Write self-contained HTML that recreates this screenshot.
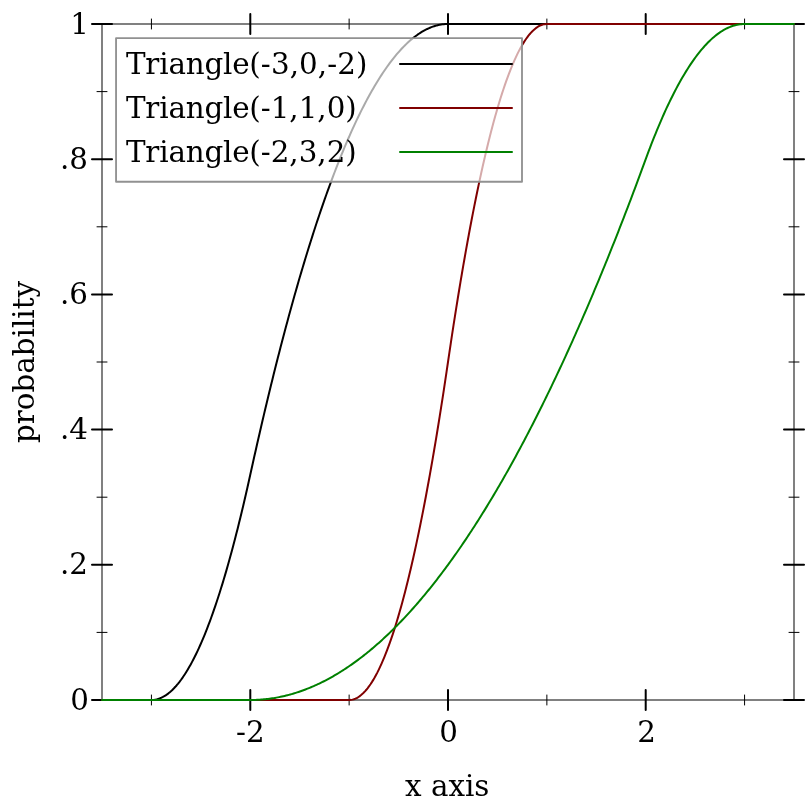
<!DOCTYPE html>
<html><head><meta charset="utf-8"><title>Triangle CDF</title>
<style>
html,body{margin:0;padding:0;background:#fff;}
svg{display:block;will-change:transform;}
text{font-family:"DejaVu Serif","Liberation Serif",serif;font-size:29.33px;fill:#000;}
</style></head><body>
<svg width="812" height="812" viewBox="0 0 812 812">
<rect width="812" height="812" fill="#fff"/>
<rect x="102.0" y="24.0" width="692.0" height="676.0" fill="none" stroke="#808080" stroke-width="2"/>
<g stroke="#000" stroke-linecap="round"><line x1="151.43" y1="695.0" x2="151.43" y2="705.0" stroke-width="1"/><line x1="151.43" y1="19.0" x2="151.43" y2="29.0" stroke-width="1"/><line x1="250.29" y1="690.0" x2="250.29" y2="710.0" stroke-width="2"/><line x1="250.29" y1="14.0" x2="250.29" y2="34.0" stroke-width="2"/><line x1="349.14" y1="695.0" x2="349.14" y2="705.0" stroke-width="1"/><line x1="349.14" y1="19.0" x2="349.14" y2="29.0" stroke-width="1"/><line x1="448.00" y1="690.0" x2="448.00" y2="710.0" stroke-width="2"/><line x1="448.00" y1="14.0" x2="448.00" y2="34.0" stroke-width="2"/><line x1="546.86" y1="695.0" x2="546.86" y2="705.0" stroke-width="1"/><line x1="546.86" y1="19.0" x2="546.86" y2="29.0" stroke-width="1"/><line x1="645.71" y1="690.0" x2="645.71" y2="710.0" stroke-width="2"/><line x1="645.71" y1="14.0" x2="645.71" y2="34.0" stroke-width="2"/><line x1="744.57" y1="695.0" x2="744.57" y2="705.0" stroke-width="1"/><line x1="744.57" y1="19.0" x2="744.57" y2="29.0" stroke-width="1"/><line x1="92.0" y1="700.00" x2="112.0" y2="700.00" stroke-width="2"/><line x1="784.0" y1="700.00" x2="804.0" y2="700.00" stroke-width="2"/><line x1="97.0" y1="632.40" x2="107.0" y2="632.40" stroke-width="1"/><line x1="789.0" y1="632.40" x2="799.0" y2="632.40" stroke-width="1"/><line x1="92.0" y1="564.80" x2="112.0" y2="564.80" stroke-width="2"/><line x1="784.0" y1="564.80" x2="804.0" y2="564.80" stroke-width="2"/><line x1="97.0" y1="497.20" x2="107.0" y2="497.20" stroke-width="1"/><line x1="789.0" y1="497.20" x2="799.0" y2="497.20" stroke-width="1"/><line x1="92.0" y1="429.60" x2="112.0" y2="429.60" stroke-width="2"/><line x1="784.0" y1="429.60" x2="804.0" y2="429.60" stroke-width="2"/><line x1="97.0" y1="362.00" x2="107.0" y2="362.00" stroke-width="1"/><line x1="789.0" y1="362.00" x2="799.0" y2="362.00" stroke-width="1"/><line x1="92.0" y1="294.40" x2="112.0" y2="294.40" stroke-width="2"/><line x1="784.0" y1="294.40" x2="804.0" y2="294.40" stroke-width="2"/><line x1="97.0" y1="226.80" x2="107.0" y2="226.80" stroke-width="1"/><line x1="789.0" y1="226.80" x2="799.0" y2="226.80" stroke-width="1"/><line x1="92.0" y1="159.20" x2="112.0" y2="159.20" stroke-width="2"/><line x1="784.0" y1="159.20" x2="804.0" y2="159.20" stroke-width="2"/><line x1="97.0" y1="91.60" x2="107.0" y2="91.60" stroke-width="1"/><line x1="789.0" y1="91.60" x2="799.0" y2="91.60" stroke-width="1"/><line x1="92.0" y1="24.00" x2="112.0" y2="24.00" stroke-width="2"/><line x1="784.0" y1="24.00" x2="804.0" y2="24.00" stroke-width="2"/></g>
<clipPath id="c"><rect x="101" y="23" width="694" height="678"/></clipPath>
<g clip-path="url(#c)" fill="none" stroke-width="2" stroke-linejoin="round" stroke-linecap="round"><path d="M102.00,700.00 L103.38,700.00 L104.77,700.00 L106.15,700.00 L107.54,700.00 L108.92,700.00 L110.30,700.00 L111.69,700.00 L113.07,700.00 L114.46,700.00 L115.84,700.00 L117.22,700.00 L118.61,700.00 L119.99,700.00 L121.38,700.00 L122.76,700.00 L124.14,700.00 L125.53,700.00 L126.91,700.00 L128.30,700.00 L129.68,700.00 L131.06,700.00 L132.45,700.00 L133.83,700.00 L135.22,700.00 L136.60,700.00 L137.98,700.00 L139.37,700.00 L140.75,700.00 L142.14,700.00 L143.52,700.00 L144.90,700.00 L146.29,700.00 L147.67,700.00 L149.06,700.00 L150.44,700.00 L151.82,700.00 L153.21,699.93 L154.59,699.77 L155.98,699.52 L157.36,699.19 L158.74,698.77 L160.13,698.26 L161.51,697.66 L162.90,696.97 L164.28,696.19 L165.66,695.33 L167.05,694.37 L168.43,693.33 L169.82,692.20 L171.20,690.99 L172.58,689.68 L173.97,688.29 L175.35,686.80 L176.74,685.23 L178.12,683.57 L179.50,681.83 L180.89,679.99 L182.27,678.07 L183.66,676.05 L185.04,673.95 L186.42,671.76 L187.81,669.48 L189.19,667.12 L190.58,664.66 L191.96,662.12 L193.34,659.49 L194.73,656.77 L196.11,653.96 L197.50,651.07 L198.88,648.08 L200.26,645.01 L201.65,641.85 L203.03,638.60 L204.42,635.26 L205.80,631.84 L207.18,628.32 L208.57,624.72 L209.95,621.03 L211.34,617.25 L212.72,613.38 L214.10,609.43 L215.49,605.38 L216.87,601.25 L218.26,597.03 L219.64,592.72 L221.02,588.32 L222.41,583.84 L223.79,579.26 L225.18,574.60 L226.56,569.85 L227.94,565.01 L229.33,560.08 L230.71,555.06 L232.10,549.96 L233.48,544.77 L234.86,539.49 L236.25,534.12 L237.63,528.66 L239.02,523.11 L240.40,517.48 L241.78,511.76 L243.17,505.95 L244.55,500.05 L245.94,494.06 L247.32,487.98 L248.70,481.82 L250.09,475.57 L251.47,469.27 L252.86,463.03 L254.24,456.82 L255.62,450.66 L257.01,444.54 L258.39,438.47 L259.78,432.44 L261.16,426.46 L262.54,420.52 L263.93,414.62 L265.31,408.77 L266.70,402.96 L268.08,397.20 L269.46,391.48 L270.85,385.80 L272.23,380.17 L273.62,374.58 L275.00,369.04 L276.38,363.54 L277.77,358.09 L279.15,352.68 L280.54,347.31 L281.92,341.99 L283.30,336.71 L284.69,331.48 L286.07,326.29 L287.46,321.14 L288.84,316.04 L290.22,310.99 L291.61,305.97 L292.99,301.00 L294.38,296.08 L295.76,291.20 L297.14,286.36 L298.53,281.57 L299.91,276.82 L301.30,272.12 L302.68,267.46 L304.06,262.85 L305.45,258.28 L306.83,253.75 L308.22,249.27 L309.60,244.83 L310.98,240.43 L312.37,236.08 L313.75,231.78 L315.14,227.51 L316.52,223.30 L317.90,219.12 L319.29,214.99 L320.67,210.91 L322.06,206.87 L323.44,202.87 L324.82,198.92 L326.21,195.01 L327.59,191.14 L328.98,187.32 L330.36,183.55 L331.74,179.82 L333.13,176.13 L334.51,172.48 L335.90,168.88 L337.28,165.33 L338.66,161.82 L340.05,158.35 L341.43,154.93 L342.82,151.55 L344.20,148.22 L345.58,144.92 L346.97,141.68 L348.35,138.48 L349.74,135.32 L351.12,132.21 L352.50,129.14 L353.89,126.11 L355.27,123.13 L356.66,120.19 L358.04,117.30 L359.42,114.45 L360.81,111.65 L362.19,108.89 L363.58,106.17 L364.96,103.50 L366.34,100.87 L367.73,98.29 L369.11,95.75 L370.50,93.25 L371.88,90.80 L373.26,88.39 L374.65,86.03 L376.03,83.71 L377.42,81.44 L378.80,79.21 L380.18,77.02 L381.57,74.88 L382.95,72.78 L384.34,70.73 L385.72,68.72 L387.10,66.75 L388.49,64.83 L389.87,62.95 L391.26,61.12 L392.64,59.33 L394.02,57.59 L395.41,55.89 L396.79,54.23 L398.18,52.62 L399.56,51.05 L400.94,49.53 L402.33,48.05 L403.71,46.61 L405.10,45.22 L406.48,43.87 L407.86,42.57 L409.25,41.31 L410.63,40.10 L412.02,38.93 L413.40,37.80 L414.78,36.72 L416.17,35.68 L417.55,34.69 L418.94,33.74 L420.32,32.83 L421.70,31.97 L423.09,31.15 L424.47,30.38 L425.86,29.65 L427.24,28.97 L428.62,28.33 L430.01,27.73 L431.39,27.18 L432.78,26.67 L434.16,26.21 L435.54,25.79 L436.93,25.41 L438.31,25.08 L439.70,24.79 L441.08,24.55 L442.46,24.35 L443.85,24.20 L445.23,24.09 L446.62,24.02 L448.00,24.00 L449.38,24.00 L450.77,24.00 L452.15,24.00 L453.54,24.00 L454.92,24.00 L456.30,24.00 L457.69,24.00 L459.07,24.00 L460.46,24.00 L461.84,24.00 L463.22,24.00 L464.61,24.00 L465.99,24.00 L467.38,24.00 L468.76,24.00 L470.14,24.00 L471.53,24.00 L472.91,24.00 L474.30,24.00 L475.68,24.00 L477.06,24.00 L478.45,24.00 L479.83,24.00 L481.22,24.00 L482.60,24.00 L483.98,24.00 L485.37,24.00 L486.75,24.00 L488.14,24.00 L489.52,24.00 L490.90,24.00 L492.29,24.00 L493.67,24.00 L495.06,24.00 L496.44,24.00 L497.82,24.00 L499.21,24.00 L500.59,24.00 L501.98,24.00 L503.36,24.00 L504.74,24.00 L506.13,24.00 L507.51,24.00 L508.90,24.00 L510.28,24.00 L511.66,24.00 L513.05,24.00 L514.43,24.00 L515.82,24.00 L517.20,24.00 L518.58,24.00 L519.97,24.00 L521.35,24.00 L522.74,24.00 L524.12,24.00 L525.50,24.00 L526.89,24.00 L528.27,24.00 L529.66,24.00 L531.04,24.00 L532.42,24.00 L533.81,24.00 L535.19,24.00 L536.58,24.00 L537.96,24.00 L539.34,24.00 L540.73,24.00 L542.11,24.00 L543.50,24.00 L544.88,24.00 L546.26,24.00 L547.65,24.00 L549.03,24.00 L550.42,24.00 L551.80,24.00 L553.18,24.00 L554.57,24.00 L555.95,24.00 L557.34,24.00 L558.72,24.00 L560.10,24.00 L561.49,24.00 L562.87,24.00 L564.26,24.00 L565.64,24.00 L567.02,24.00 L568.41,24.00 L569.79,24.00 L571.18,24.00 L572.56,24.00 L573.94,24.00 L575.33,24.00 L576.71,24.00 L578.10,24.00 L579.48,24.00 L580.86,24.00 L582.25,24.00 L583.63,24.00 L585.02,24.00 L586.40,24.00 L587.78,24.00 L589.17,24.00 L590.55,24.00 L591.94,24.00 L593.32,24.00 L594.70,24.00 L596.09,24.00 L597.47,24.00 L598.86,24.00 L600.24,24.00 L601.62,24.00 L603.01,24.00 L604.39,24.00 L605.78,24.00 L607.16,24.00 L608.54,24.00 L609.93,24.00 L611.31,24.00 L612.70,24.00 L614.08,24.00 L615.46,24.00 L616.85,24.00 L618.23,24.00 L619.62,24.00 L621.00,24.00 L622.38,24.00 L623.77,24.00 L625.15,24.00 L626.54,24.00 L627.92,24.00 L629.30,24.00 L630.69,24.00 L632.07,24.00 L633.46,24.00 L634.84,24.00 L636.22,24.00 L637.61,24.00 L638.99,24.00 L640.38,24.00 L641.76,24.00 L643.14,24.00 L644.53,24.00 L645.91,24.00 L647.30,24.00 L648.68,24.00 L650.06,24.00 L651.45,24.00 L652.83,24.00 L654.22,24.00 L655.60,24.00 L656.98,24.00 L658.37,24.00 L659.75,24.00 L661.14,24.00 L662.52,24.00 L663.90,24.00 L665.29,24.00 L666.67,24.00 L668.06,24.00 L669.44,24.00 L670.82,24.00 L672.21,24.00 L673.59,24.00 L674.98,24.00 L676.36,24.00 L677.74,24.00 L679.13,24.00 L680.51,24.00 L681.90,24.00 L683.28,24.00 L684.66,24.00 L686.05,24.00 L687.43,24.00 L688.82,24.00 L690.20,24.00 L691.58,24.00 L692.97,24.00 L694.35,24.00 L695.74,24.00 L697.12,24.00 L698.50,24.00 L699.89,24.00 L701.27,24.00 L702.66,24.00 L704.04,24.00 L705.42,24.00 L706.81,24.00 L708.19,24.00 L709.58,24.00 L710.96,24.00 L712.34,24.00 L713.73,24.00 L715.11,24.00 L716.50,24.00 L717.88,24.00 L719.26,24.00 L720.65,24.00 L722.03,24.00 L723.42,24.00 L724.80,24.00 L726.18,24.00 L727.57,24.00 L728.95,24.00 L730.34,24.00 L731.72,24.00 L733.10,24.00 L734.49,24.00 L735.87,24.00 L737.26,24.00 L738.64,24.00 L740.02,24.00 L741.41,24.00 L742.79,24.00 L744.18,24.00 L745.56,24.00 L746.94,24.00 L748.33,24.00 L749.71,24.00 L751.10,24.00 L752.48,24.00 L753.86,24.00 L755.25,24.00 L756.63,24.00 L758.02,24.00 L759.40,24.00 L760.78,24.00 L762.17,24.00 L763.55,24.00 L764.94,24.00 L766.32,24.00 L767.70,24.00 L769.09,24.00 L770.47,24.00 L771.86,24.00 L773.24,24.00 L774.62,24.00 L776.01,24.00 L777.39,24.00 L778.78,24.00 L780.16,24.00 L781.54,24.00 L782.93,24.00 L784.31,24.00 L785.70,24.00 L787.08,24.00 L788.46,24.00 L789.85,24.00 L791.23,24.00 L792.62,24.00 L794.00,24.00" stroke="#000000"/><path d="M102.00,700.00 L103.38,700.00 L104.77,700.00 L106.15,700.00 L107.54,700.00 L108.92,700.00 L110.30,700.00 L111.69,700.00 L113.07,700.00 L114.46,700.00 L115.84,700.00 L117.22,700.00 L118.61,700.00 L119.99,700.00 L121.38,700.00 L122.76,700.00 L124.14,700.00 L125.53,700.00 L126.91,700.00 L128.30,700.00 L129.68,700.00 L131.06,700.00 L132.45,700.00 L133.83,700.00 L135.22,700.00 L136.60,700.00 L137.98,700.00 L139.37,700.00 L140.75,700.00 L142.14,700.00 L143.52,700.00 L144.90,700.00 L146.29,700.00 L147.67,700.00 L149.06,700.00 L150.44,700.00 L151.82,700.00 L153.21,700.00 L154.59,700.00 L155.98,700.00 L157.36,700.00 L158.74,700.00 L160.13,700.00 L161.51,700.00 L162.90,700.00 L164.28,700.00 L165.66,700.00 L167.05,700.00 L168.43,700.00 L169.82,700.00 L171.20,700.00 L172.58,700.00 L173.97,700.00 L175.35,700.00 L176.74,700.00 L178.12,700.00 L179.50,700.00 L180.89,700.00 L182.27,700.00 L183.66,700.00 L185.04,700.00 L186.42,700.00 L187.81,700.00 L189.19,700.00 L190.58,700.00 L191.96,700.00 L193.34,700.00 L194.73,700.00 L196.11,700.00 L197.50,700.00 L198.88,700.00 L200.26,700.00 L201.65,700.00 L203.03,700.00 L204.42,700.00 L205.80,700.00 L207.18,700.00 L208.57,700.00 L209.95,700.00 L211.34,700.00 L212.72,700.00 L214.10,700.00 L215.49,700.00 L216.87,700.00 L218.26,700.00 L219.64,700.00 L221.02,700.00 L222.41,700.00 L223.79,700.00 L225.18,700.00 L226.56,700.00 L227.94,700.00 L229.33,700.00 L230.71,700.00 L232.10,700.00 L233.48,700.00 L234.86,700.00 L236.25,700.00 L237.63,700.00 L239.02,700.00 L240.40,700.00 L241.78,700.00 L243.17,700.00 L244.55,700.00 L245.94,700.00 L247.32,700.00 L248.70,700.00 L250.09,700.00 L251.47,700.00 L252.86,700.00 L254.24,700.00 L255.62,700.00 L257.01,700.00 L258.39,700.00 L259.78,700.00 L261.16,700.00 L262.54,700.00 L263.93,700.00 L265.31,700.00 L266.70,700.00 L268.08,700.00 L269.46,700.00 L270.85,700.00 L272.23,700.00 L273.62,700.00 L275.00,700.00 L276.38,700.00 L277.77,700.00 L279.15,700.00 L280.54,700.00 L281.92,700.00 L283.30,700.00 L284.69,700.00 L286.07,700.00 L287.46,700.00 L288.84,700.00 L290.22,700.00 L291.61,700.00 L292.99,700.00 L294.38,700.00 L295.76,700.00 L297.14,700.00 L298.53,700.00 L299.91,700.00 L301.30,700.00 L302.68,700.00 L304.06,700.00 L305.45,700.00 L306.83,700.00 L308.22,700.00 L309.60,700.00 L310.98,700.00 L312.37,700.00 L313.75,700.00 L315.14,700.00 L316.52,700.00 L317.90,700.00 L319.29,700.00 L320.67,700.00 L322.06,700.00 L323.44,700.00 L324.82,700.00 L326.21,700.00 L327.59,700.00 L328.98,700.00 L330.36,700.00 L331.74,700.00 L333.13,700.00 L334.51,700.00 L335.90,700.00 L337.28,700.00 L338.66,700.00 L340.05,700.00 L341.43,700.00 L342.82,700.00 L344.20,700.00 L345.58,700.00 L346.97,700.00 L348.35,700.00 L349.74,699.99 L351.12,699.86 L352.50,699.61 L353.89,699.22 L355.27,698.70 L356.66,698.05 L358.04,697.26 L359.42,696.34 L360.81,695.29 L362.19,694.11 L363.58,692.80 L364.96,691.35 L366.34,689.77 L367.73,688.05 L369.11,686.21 L370.50,684.23 L371.88,682.12 L373.26,679.88 L374.65,677.50 L376.03,674.99 L377.42,672.35 L378.80,669.58 L380.18,666.67 L381.57,663.64 L382.95,660.47 L384.34,657.16 L385.72,653.73 L387.10,650.16 L388.49,646.46 L389.87,642.63 L391.26,638.66 L392.64,634.56 L394.02,630.33 L395.41,625.97 L396.79,621.47 L398.18,616.85 L399.56,612.09 L400.94,607.19 L402.33,602.17 L403.71,597.01 L405.10,591.72 L406.48,586.30 L407.86,580.74 L409.25,575.05 L410.63,569.23 L412.02,563.28 L413.40,557.20 L414.78,550.98 L416.17,544.63 L417.55,538.14 L418.94,531.53 L420.32,524.78 L421.70,517.90 L423.09,510.89 L424.47,503.74 L425.86,496.46 L427.24,489.05 L428.62,481.51 L430.01,473.84 L431.39,466.03 L432.78,458.09 L434.16,450.02 L435.54,441.81 L436.93,433.47 L438.31,425.00 L439.70,416.40 L441.08,407.66 L442.46,398.80 L443.85,389.80 L445.23,380.66 L446.62,371.40 L448.00,362.00 L449.38,352.60 L450.77,343.34 L452.15,334.20 L453.54,325.20 L454.92,316.34 L456.30,307.60 L457.69,299.00 L459.07,290.53 L460.46,282.19 L461.84,273.98 L463.22,265.91 L464.61,257.97 L465.99,250.16 L467.38,242.49 L468.76,234.95 L470.14,227.54 L471.53,220.26 L472.91,213.11 L474.30,206.10 L475.68,199.22 L477.06,192.47 L478.45,185.86 L479.83,179.37 L481.22,173.02 L482.60,166.80 L483.98,160.72 L485.37,154.77 L486.75,148.95 L488.14,143.26 L489.52,137.70 L490.90,132.28 L492.29,126.99 L493.67,121.83 L495.06,116.81 L496.44,111.91 L497.82,107.15 L499.21,102.53 L500.59,98.03 L501.98,93.67 L503.36,89.44 L504.74,85.34 L506.13,81.37 L507.51,77.54 L508.90,73.84 L510.28,70.27 L511.66,66.84 L513.05,63.53 L514.43,60.36 L515.82,57.33 L517.20,54.42 L518.58,51.65 L519.97,49.01 L521.35,46.50 L522.74,44.12 L524.12,41.88 L525.50,39.77 L526.89,37.79 L528.27,35.95 L529.66,34.23 L531.04,32.65 L532.42,31.20 L533.81,29.89 L535.19,28.71 L536.58,27.66 L537.96,26.74 L539.34,25.95 L540.73,25.30 L542.11,24.78 L543.50,24.39 L544.88,24.14 L546.26,24.01 L547.65,24.00 L549.03,24.00 L550.42,24.00 L551.80,24.00 L553.18,24.00 L554.57,24.00 L555.95,24.00 L557.34,24.00 L558.72,24.00 L560.10,24.00 L561.49,24.00 L562.87,24.00 L564.26,24.00 L565.64,24.00 L567.02,24.00 L568.41,24.00 L569.79,24.00 L571.18,24.00 L572.56,24.00 L573.94,24.00 L575.33,24.00 L576.71,24.00 L578.10,24.00 L579.48,24.00 L580.86,24.00 L582.25,24.00 L583.63,24.00 L585.02,24.00 L586.40,24.00 L587.78,24.00 L589.17,24.00 L590.55,24.00 L591.94,24.00 L593.32,24.00 L594.70,24.00 L596.09,24.00 L597.47,24.00 L598.86,24.00 L600.24,24.00 L601.62,24.00 L603.01,24.00 L604.39,24.00 L605.78,24.00 L607.16,24.00 L608.54,24.00 L609.93,24.00 L611.31,24.00 L612.70,24.00 L614.08,24.00 L615.46,24.00 L616.85,24.00 L618.23,24.00 L619.62,24.00 L621.00,24.00 L622.38,24.00 L623.77,24.00 L625.15,24.00 L626.54,24.00 L627.92,24.00 L629.30,24.00 L630.69,24.00 L632.07,24.00 L633.46,24.00 L634.84,24.00 L636.22,24.00 L637.61,24.00 L638.99,24.00 L640.38,24.00 L641.76,24.00 L643.14,24.00 L644.53,24.00 L645.91,24.00 L647.30,24.00 L648.68,24.00 L650.06,24.00 L651.45,24.00 L652.83,24.00 L654.22,24.00 L655.60,24.00 L656.98,24.00 L658.37,24.00 L659.75,24.00 L661.14,24.00 L662.52,24.00 L663.90,24.00 L665.29,24.00 L666.67,24.00 L668.06,24.00 L669.44,24.00 L670.82,24.00 L672.21,24.00 L673.59,24.00 L674.98,24.00 L676.36,24.00 L677.74,24.00 L679.13,24.00 L680.51,24.00 L681.90,24.00 L683.28,24.00 L684.66,24.00 L686.05,24.00 L687.43,24.00 L688.82,24.00 L690.20,24.00 L691.58,24.00 L692.97,24.00 L694.35,24.00 L695.74,24.00 L697.12,24.00 L698.50,24.00 L699.89,24.00 L701.27,24.00 L702.66,24.00 L704.04,24.00 L705.42,24.00 L706.81,24.00 L708.19,24.00 L709.58,24.00 L710.96,24.00 L712.34,24.00 L713.73,24.00 L715.11,24.00 L716.50,24.00 L717.88,24.00 L719.26,24.00 L720.65,24.00 L722.03,24.00 L723.42,24.00 L724.80,24.00 L726.18,24.00 L727.57,24.00 L728.95,24.00 L730.34,24.00 L731.72,24.00 L733.10,24.00 L734.49,24.00 L735.87,24.00 L737.26,24.00 L738.64,24.00 L740.02,24.00 L741.41,24.00 L742.79,24.00 L744.18,24.00 L745.56,24.00 L746.94,24.00 L748.33,24.00 L749.71,24.00 L751.10,24.00 L752.48,24.00 L753.86,24.00 L755.25,24.00 L756.63,24.00 L758.02,24.00 L759.40,24.00 L760.78,24.00 L762.17,24.00 L763.55,24.00 L764.94,24.00 L766.32,24.00 L767.70,24.00 L769.09,24.00 L770.47,24.00 L771.86,24.00 L773.24,24.00 L774.62,24.00 L776.01,24.00 L777.39,24.00 L778.78,24.00 L780.16,24.00 L781.54,24.00 L782.93,24.00 L784.31,24.00 L785.70,24.00 L787.08,24.00 L788.46,24.00 L789.85,24.00 L791.23,24.00 L792.62,24.00 L794.00,24.00" stroke="#800000"/><path d="M102.00,700.00 L103.38,700.00 L104.77,700.00 L106.15,700.00 L107.54,700.00 L108.92,700.00 L110.30,700.00 L111.69,700.00 L113.07,700.00 L114.46,700.00 L115.84,700.00 L117.22,700.00 L118.61,700.00 L119.99,700.00 L121.38,700.00 L122.76,700.00 L124.14,700.00 L125.53,700.00 L126.91,700.00 L128.30,700.00 L129.68,700.00 L131.06,700.00 L132.45,700.00 L133.83,700.00 L135.22,700.00 L136.60,700.00 L137.98,700.00 L139.37,700.00 L140.75,700.00 L142.14,700.00 L143.52,700.00 L144.90,700.00 L146.29,700.00 L147.67,700.00 L149.06,700.00 L150.44,700.00 L151.82,700.00 L153.21,700.00 L154.59,700.00 L155.98,700.00 L157.36,700.00 L158.74,700.00 L160.13,700.00 L161.51,700.00 L162.90,700.00 L164.28,700.00 L165.66,700.00 L167.05,700.00 L168.43,700.00 L169.82,700.00 L171.20,700.00 L172.58,700.00 L173.97,700.00 L175.35,700.00 L176.74,700.00 L178.12,700.00 L179.50,700.00 L180.89,700.00 L182.27,700.00 L183.66,700.00 L185.04,700.00 L186.42,700.00 L187.81,700.00 L189.19,700.00 L190.58,700.00 L191.96,700.00 L193.34,700.00 L194.73,700.00 L196.11,700.00 L197.50,700.00 L198.88,700.00 L200.26,700.00 L201.65,700.00 L203.03,700.00 L204.42,700.00 L205.80,700.00 L207.18,700.00 L208.57,700.00 L209.95,700.00 L211.34,700.00 L212.72,700.00 L214.10,700.00 L215.49,700.00 L216.87,700.00 L218.26,700.00 L219.64,700.00 L221.02,700.00 L222.41,700.00 L223.79,700.00 L225.18,700.00 L226.56,700.00 L227.94,700.00 L229.33,700.00 L230.71,700.00 L232.10,700.00 L233.48,700.00 L234.86,700.00 L236.25,700.00 L237.63,700.00 L239.02,700.00 L240.40,700.00 L241.78,700.00 L243.17,700.00 L244.55,700.00 L245.94,700.00 L247.32,700.00 L248.70,700.00 L250.09,700.00 L251.47,700.00 L252.86,699.98 L254.24,699.95 L255.62,699.90 L257.01,699.84 L258.39,699.77 L259.78,699.69 L261.16,699.59 L262.54,699.48 L263.93,699.36 L265.31,699.22 L266.70,699.07 L268.08,698.90 L269.46,698.73 L270.85,698.54 L272.23,698.33 L273.62,698.12 L275.00,697.89 L276.38,697.64 L277.77,697.39 L279.15,697.12 L280.54,696.84 L281.92,696.54 L283.30,696.23 L284.69,695.91 L286.07,695.57 L287.46,695.22 L288.84,694.86 L290.22,694.48 L291.61,694.09 L292.99,693.69 L294.38,693.28 L295.76,692.85 L297.14,692.41 L298.53,691.95 L299.91,691.48 L301.30,691.00 L302.68,690.51 L304.06,690.00 L305.45,689.48 L306.83,688.94 L308.22,688.39 L309.60,687.83 L310.98,687.26 L312.37,686.67 L313.75,686.07 L315.14,685.45 L316.52,684.83 L317.90,684.19 L319.29,683.53 L320.67,682.87 L322.06,682.18 L323.44,681.49 L324.82,680.78 L326.21,680.06 L327.59,679.33 L328.98,678.58 L330.36,677.82 L331.74,677.05 L333.13,676.26 L334.51,675.46 L335.90,674.65 L337.28,673.83 L338.66,672.99 L340.05,672.13 L341.43,671.27 L342.82,670.39 L344.20,669.50 L345.58,668.59 L346.97,667.67 L348.35,666.74 L349.74,665.79 L351.12,664.83 L352.50,663.86 L353.89,662.88 L355.27,661.88 L356.66,660.87 L358.04,659.84 L359.42,658.80 L360.81,657.75 L362.19,656.69 L363.58,655.61 L364.96,654.52 L366.34,653.41 L367.73,652.30 L369.11,651.17 L370.50,650.02 L371.88,648.86 L373.26,647.69 L374.65,646.51 L376.03,645.31 L377.42,644.10 L378.80,642.88 L380.18,641.64 L381.57,640.39 L382.95,639.13 L384.34,637.85 L385.72,636.56 L387.10,635.26 L388.49,633.94 L389.87,632.61 L391.26,631.27 L392.64,629.91 L394.02,628.54 L395.41,627.16 L396.79,625.76 L398.18,624.36 L399.56,622.93 L400.94,621.50 L402.33,620.05 L403.71,618.59 L405.10,617.11 L406.48,615.62 L407.86,614.12 L409.25,612.60 L410.63,611.08 L412.02,609.53 L413.40,607.98 L414.78,606.41 L416.17,604.83 L417.55,603.24 L418.94,601.63 L420.32,600.01 L421.70,598.37 L423.09,596.72 L424.47,595.06 L425.86,593.39 L427.24,591.70 L428.62,590.00 L430.01,588.29 L431.39,586.56 L432.78,584.82 L434.16,583.07 L435.54,581.30 L436.93,579.52 L438.31,577.72 L439.70,575.92 L441.08,574.10 L442.46,572.27 L443.85,570.42 L445.23,568.56 L446.62,566.69 L448.00,564.80 L449.38,562.90 L450.77,560.99 L452.15,559.06 L453.54,557.12 L454.92,555.17 L456.30,553.20 L457.69,551.23 L459.07,549.23 L460.46,547.23 L461.84,545.21 L463.22,543.18 L464.61,541.13 L465.99,539.07 L467.38,537.00 L468.76,534.92 L470.14,532.82 L471.53,530.71 L472.91,528.58 L474.30,526.45 L475.68,524.29 L477.06,522.13 L478.45,519.95 L479.83,517.76 L481.22,515.56 L482.60,513.34 L483.98,511.11 L485.37,508.86 L486.75,506.61 L488.14,504.34 L489.52,502.05 L490.90,499.76 L492.29,497.45 L493.67,495.12 L495.06,492.79 L496.44,490.44 L497.82,488.07 L499.21,485.70 L500.59,483.31 L501.98,480.90 L503.36,478.49 L504.74,476.06 L506.13,473.62 L507.51,471.16 L508.90,468.69 L510.28,466.21 L511.66,463.71 L513.05,461.20 L514.43,458.68 L515.82,456.15 L517.20,453.60 L518.58,451.04 L519.97,448.46 L521.35,445.87 L522.74,443.27 L524.12,440.66 L525.50,438.03 L526.89,435.39 L528.27,432.73 L529.66,430.06 L531.04,427.38 L532.42,424.69 L533.81,421.98 L535.19,419.26 L536.58,416.53 L537.96,413.78 L539.34,411.02 L540.73,408.24 L542.11,405.46 L543.50,402.66 L544.88,399.84 L546.26,397.02 L547.65,394.18 L549.03,391.32 L550.42,388.46 L551.80,385.58 L553.18,382.68 L554.57,379.78 L555.95,376.86 L557.34,373.92 L558.72,370.98 L560.10,368.02 L561.49,365.05 L562.87,362.06 L564.26,359.06 L565.64,356.05 L567.02,353.02 L568.41,349.98 L569.79,346.93 L571.18,343.87 L572.56,340.79 L573.94,337.70 L575.33,334.59 L576.71,331.47 L578.10,328.34 L579.48,325.20 L580.86,322.04 L582.25,318.87 L583.63,315.68 L585.02,312.48 L586.40,309.27 L587.78,306.05 L589.17,302.81 L590.55,299.56 L591.94,296.29 L593.32,293.02 L594.70,289.73 L596.09,286.42 L597.47,283.11 L598.86,279.78 L600.24,276.43 L601.62,273.08 L603.01,269.70 L604.39,266.32 L605.78,262.92 L607.16,259.52 L608.54,256.09 L609.93,252.66 L611.31,249.21 L612.70,245.74 L614.08,242.27 L615.46,238.78 L616.85,235.27 L618.23,231.76 L619.62,228.23 L621.00,224.69 L622.38,221.13 L623.77,217.56 L625.15,213.98 L626.54,210.39 L627.92,206.78 L629.30,203.16 L630.69,199.52 L632.07,195.87 L633.46,192.21 L634.84,188.54 L636.22,184.85 L637.61,181.15 L638.99,177.43 L640.38,173.70 L641.76,169.96 L643.14,166.21 L644.53,162.44 L645.91,158.66 L647.30,154.91 L648.68,151.21 L650.06,147.56 L651.45,143.97 L652.83,140.43 L654.22,136.95 L655.60,133.51 L656.98,130.13 L658.37,126.80 L659.75,123.53 L661.14,120.31 L662.52,117.14 L663.90,114.02 L665.29,110.96 L666.67,107.95 L668.06,105.00 L669.44,102.09 L670.82,99.24 L672.21,96.44 L673.59,93.70 L674.98,91.01 L676.36,88.37 L677.74,85.78 L679.13,83.25 L680.51,80.77 L681.90,78.34 L683.28,75.97 L684.66,73.65 L686.05,71.38 L687.43,69.17 L688.82,67.01 L690.20,64.90 L691.58,62.84 L692.97,60.84 L694.35,58.89 L695.74,56.99 L697.12,55.15 L698.50,53.36 L699.89,51.62 L701.27,49.94 L702.66,48.31 L704.04,46.73 L705.42,45.20 L706.81,43.73 L708.19,42.31 L709.58,40.94 L710.96,39.63 L712.34,38.37 L713.73,37.16 L715.11,36.01 L716.50,34.90 L717.88,33.86 L719.26,32.86 L720.65,31.92 L722.03,31.03 L723.42,30.19 L724.80,29.41 L726.18,28.68 L727.57,28.00 L728.95,27.38 L730.34,26.80 L731.72,26.28 L733.10,25.82 L734.49,25.41 L735.87,25.05 L737.26,24.74 L738.64,24.49 L740.02,24.29 L741.41,24.14 L742.79,24.04 L744.18,24.00 L745.56,24.00 L746.94,24.00 L748.33,24.00 L749.71,24.00 L751.10,24.00 L752.48,24.00 L753.86,24.00 L755.25,24.00 L756.63,24.00 L758.02,24.00 L759.40,24.00 L760.78,24.00 L762.17,24.00 L763.55,24.00 L764.94,24.00 L766.32,24.00 L767.70,24.00 L769.09,24.00 L770.47,24.00 L771.86,24.00 L773.24,24.00 L774.62,24.00 L776.01,24.00 L777.39,24.00 L778.78,24.00 L780.16,24.00 L781.54,24.00 L782.93,24.00 L784.31,24.00 L785.70,24.00 L787.08,24.00 L788.46,24.00 L789.85,24.00 L791.23,24.00 L792.62,24.00 L794.00,24.00" stroke="#008000"/></g>
<rect x="116.05" y="38.1" width="405.95" height="143.65" fill="#fff" fill-opacity="0.6667" stroke="#919191" stroke-width="1.85" stroke-linejoin="round"/>
<text x="126" y="74"><tspan letter-spacing="-0.19">Triangle</tspan><tspan letter-spacing="0.1">(-3,0,-2)</tspan></text>
<line x1="400" y1="64" x2="512" y2="64" stroke="#000000" stroke-width="2" stroke-linecap="round"/>
<text x="126" y="118"><tspan letter-spacing="-0.19">Triangle</tspan><tspan letter-spacing="0">(-1,1,0)</tspan></text>
<line x1="400" y1="108" x2="512" y2="108" stroke="#800000" stroke-width="2" stroke-linecap="round"/>
<text x="126" y="162"><tspan letter-spacing="-0.19">Triangle</tspan><tspan letter-spacing="0">(-2,3,2)</tspan></text>
<line x1="400" y1="152" x2="512" y2="152" stroke="#008000" stroke-width="2" stroke-linecap="round"/>
<text x="250.29" y="741.9" text-anchor="middle">-2</text>
<text x="448.60" y="741.9" text-anchor="middle">0</text>
<text x="646.71" y="741.9" text-anchor="middle">2</text>
<text x="88.8" y="709.60" text-anchor="end">0</text>
<text x="88" y="574.40" text-anchor="end">.2</text>
<text x="88" y="439.20" text-anchor="end">.4</text>
<text x="88" y="304.00" text-anchor="end">.6</text>
<text x="88" y="168.80" text-anchor="end">.8</text>
<text x="88.8" y="33.60" text-anchor="end">1</text>
<text x="447.2" y="796" text-anchor="middle">x axis</text>
<text transform="translate(34,362) rotate(-90)" text-anchor="middle">probability</text>
</svg>
</body></html>
